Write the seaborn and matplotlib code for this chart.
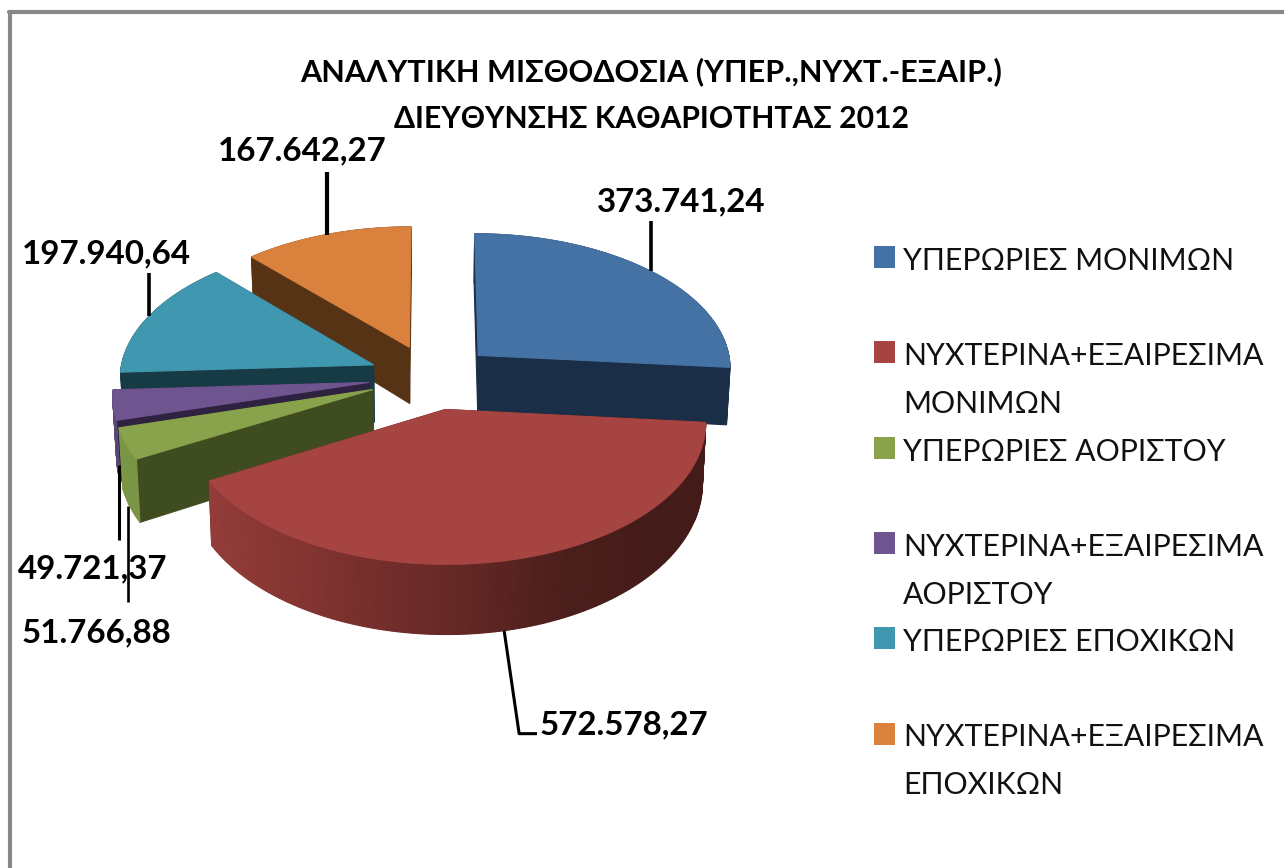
import numpy as np
import matplotlib
matplotlib.use('Agg')
import matplotlib.pyplot as plt
import seaborn as sns

# Dados do grafico
categories = ['ΥΠΕΡΩΡΙΕΣ ΜΟΝΙΜΩΝ', 'ΝΥΧΤΕΡΙΝΑ+ΕΞΑΙΡΕΣΙΜΑ\nΜΟΝΙΜΩΝ', 'ΥΠΕΡΩΡΙΕΣ ΑΟΡΙΣΤΟΥ',
              'ΝΥΧΤΕΡΙΝΑ+ΕΞΑΙΡΕΣΙΜΑ\nΑΟΡΙΣΤΟΥ', 'ΥΠΕΡΩΡΙΕΣ ΕΠΟΧΙΚΩΝ', 'ΝΥΧΤΕΡΙΝΑ+ΕΞΑΙΡΕΣΙΜΑ\nΕΠΟΧΙΚΩΝ']
values = [373741.24, 572578.27, 51766.88, 49721.37, 197940.64, 167642.27]
value_labels = ['373.741,24', '572.578,27', '51.766,88', '49.721,37', '197.940,64', '167.642,27']
title_lines = ['ΑΝΑΛΥΤΙΚΗ ΜΙΣΘΟΔΟΣΙΑ (ΥΠΕΡ.,ΝΥΧΤ.-ΕΞΑΙΡ.)', 'ΔΙΕΥΘΥΝΣΗΣ ΚΑΘΑΡΙΟΤΗΤΑΣ 2012']

# Cores
top_colors = ['#4472A5', '#A64441', '#88A34B', '#6F558F', '#4097B0', '#D9813D']
wall_colors = ['#1A2E47', '#431B18', '#3F4C20', '#2F2140', '#173B45', '#573316']
outer_colors = ['#1A2E47', None, '#7B9547', '#5B4775', '#173B45', '#573316']
red_side = sns.blend_palette(['#431B18', '#431B18', '#4A1E1B', '#6A2A28', '#853532', '#953D3A'], n_colors=147)

# Perspectiva do "3D pie"
CX, CY = 432, 377
AX_X, AX_Y = 254, 135.6
PERSP = 0.086
DEPTH = 58
SHRINK = 0.012
EXPLODE_U = 0.25
EXPLODE_V = 0.24


def project(u, v, z=0.0):
    s = 1 / (1 - PERSP * v)
    x = CX + AX_X * u * s * (1 - SHRINK * z)
    y = CY + s * AX_Y * v + s ** 1.7 * DEPTH * z
    return x, y


sns.set_theme(style='white')
plt.rcParams['font.family'] = ['Lato', 'Open Sans', 'DejaVu Sans']

fig = plt.figure(figsize=(12.84, 8.68), dpi=100)
ax = fig.add_axes([0, 0, 1, 1])
ax.set_xlim(0, 1284)
ax.set_ylim(868, 0)
ax.axis('off')

# Moldura
ax.plot([10, 10], [868, 12], color='#888888', lw=3)
ax.plot([8.5, 1284], [12, 12], color='#888888', lw=3)

vals = np.array(values)
edges = np.concatenate([[0], np.cumsum(vals) / vals.sum() * 360])
mids = (edges[:-1] + edges[1:]) / 2


def offset(i):
    a = np.radians(mids[i])
    return EXPLODE_U * np.sin(a), EXPLODE_V * np.cos(a) * -1


def fill_quad(p, color, zorder):
    xs, ys = zip(*p)
    ax.fill(xs, ys, color=color, lw=0.8, zorder=zorder)


# Fatias, de tras para a frente
z = 2.0
for i in [5, 0, 4, 3, 2, 1]:
    ou, ov = offset(i)
    ang = np.radians(np.arange(edges[i], edges[i + 1] + 0.5, 1.0))
    ang[-1] = np.radians(edges[i + 1])
    us = ou + np.sin(ang)
    vs = ov - np.cos(ang)

    quads = []
    for end in [0, -1]:
        quads.append((ov + (vs[end] - ov) / 2,
                      [project(ou, ov), project(us[end], vs[end]),
                       project(us[end], vs[end], 1), project(ou, ov, 1)],
                      wall_colors[i]))
    for k in range(len(ang) - 1):
        col = outer_colors[i] if outer_colors[i] else red_side[min(k, len(red_side) - 1)]
        quads.append(((vs[k] + vs[k + 1]) / 2,
                      [project(us[k], vs[k]), project(us[k + 1], vs[k + 1]),
                       project(us[k + 1], vs[k + 1], 1), project(us[k], vs[k], 1)],
                      col))
    for _, p, col in sorted(quads, key=lambda q: q[0]):
        fill_quad(p, col, z)
        z += 0.001

    top = [project(ou, ov)] + [project(a, b) for a, b in zip(us, vs)]
    fill_quad(top, top_colors[i], z)
    z += 0.01

# Rotulos com linhas de chamada
leader_z = [0, 1, 1, 1, 0, 0]
leader_nudge = [0, 0, -2, 2, 0, 0]
leader_end = [(0, -50), (15, 103), (0, 96), (0, 75), (0, -43), (0, -63)]
label_pos = [(597, 211), (540, 734), (22, 642), (18, 578), (22, 263), (218, 160)]
leader_lw = [2.6, 2.2, 1.9, 2.2, 2.6, 3.0]
for i in range(6):
    ou, ov = offset(i)
    a = np.radians(mids[i])
    x0, y0 = project(ou + np.sin(a), ov - np.cos(a), leader_z[i])
    x0 += leader_nudge[i]
    xs = [x0, x0 + leader_end[i][0]]
    ys = [y0, y0 + leader_end[i][1]]
    if i == 1:
        xs.append(label_pos[i][0] - 3)
        ys.append(ys[-1])
    ax.plot(xs, ys, color='black', lw=leader_lw[i], zorder=5, solid_capstyle='butt')
    ax.text(label_pos[i][0], label_pos[i][1], value_labels[i], fontsize=23.9, fontweight='bold',
            color='black', ha='left', va='baseline', zorder=6)

# Titulo
ax.text(651, 81, title_lines[0], fontsize=22.1, fontweight='bold', color='black', ha='center', va='baseline')
ax.text(651, 128, title_lines[1], fontsize=21.7, fontweight='bold', color='black', ha='center', va='baseline')

# Legenda
for i, label in enumerate(categories):
    base = 270 + 95.3 * i
    ax.fill([874, 895, 895, 874], [base - 24, base - 24, base - 2, base - 2], color=top_colors[i], lw=0)
    for j, line in enumerate(label.split('\n')):
        ax.text(903, base + 47.6 * j, line, fontsize=21.8, color='#111111', ha='left', va='baseline')

fig.savefig('out.png', dpi=100)
